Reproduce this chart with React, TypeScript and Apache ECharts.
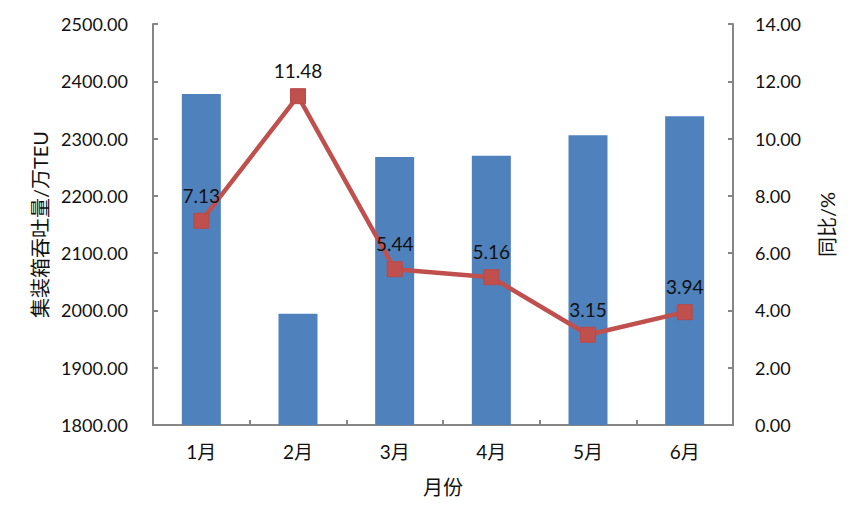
import React, { useEffect, useRef } from "react";
import * as echarts from "echarts";

const categories = ["1月", "2月", "3月", "4月", "5月", "6月"];
const throughput = [2378, 1994, 2268, 2270, 2306, 2339];
const yoy = [7.13, 11.48, 5.44, 5.16, 3.15, 3.94];

const FONT = "Lato, 'Noto Sans CJK SC', sans-serif";

export default function App() {
  const ref = useRef<HTMLDivElement>(null);
  useEffect(() => {
    if (!ref.current) return;
    const chart = echarts.init(ref.current, undefined, { renderer: "svg" });
    const axisLine = { show: true, lineStyle: { color: "#868686", width: 2 } };
    const axisTick = { show: true, inside: true, length: 5, lineStyle: { color: "#868686", width: 2 } };
    chart.setOption({
      animation: false,
      textStyle: { fontFamily: FONT },
      grid: { left: 145, right: 124, top: 16, bottom: 92 },
      xAxis: {
        type: "category",
        data: categories,
        name: "月份",
        nameLocation: "middle",
        nameGap: 52,
        nameTextStyle: { fontSize: 20, color: "#111", fontFamily: FONT },
        axisLine,
        axisTick,
        axisLabel: { fontSize: 19, color: "#111", margin: 17, fontFamily: FONT },
      },
      yAxis: [
        {
          type: "value",
          min: 1800,
          max: 2500,
          interval: 100,
          name: "集装箱吞吐量/万TEU",
          nameLocation: "middle",
          nameGap: 99,
          nameRotate: 90,
          nameTextStyle: { fontSize: 20, color: "#111", fontFamily: FONT },
          axisLine,
          axisTick,
          splitLine: { show: false },
          axisLabel: {
            fontSize: 18,
            color: "#111",
            margin: 25,
            fontFamily: FONT,
            formatter: (v: number) => v.toFixed(2),
          },
        },
        {
          type: "value",
          min: 0,
          max: 14,
          interval: 2,
          position: "right",
          name: "同比/%",
          nameLocation: "middle",
          nameGap: 84,
          nameRotate: 90,
          nameTextStyle: { fontSize: 20, color: "#111", fontFamily: FONT },
          axisLine,
          axisTick,
          splitLine: { show: false },
          axisLabel: {
            fontSize: 18,
            color: "#111",
            margin: 22,
            fontFamily: FONT,
            formatter: (v: number) => v.toFixed(2),
          },
        },
      ],
      series: [
        {
          type: "bar",
          data: throughput,
          barWidth: 39,
          itemStyle: { color: "#4F81BD" },
          yAxisIndex: 0,
        },
        {
          type: "line",
          data: yoy,
          yAxisIndex: 1,
          symbol: "rect",
          symbolSize: 15,
          lineStyle: { color: "#C0504D", width: 4.5 },
          itemStyle: { color: "#C0504D", borderColor: "#B94A47", borderWidth: 1 },
          label: {
            show: true,
            position: "top",
            distance: 8,
            fontSize: 19,
            color: "#111",
            fontFamily: FONT,
            formatter: (p: any) => p.value.toFixed(2),
          },
        },
      ],
    });
    return () => chart.dispose();
  }, []);
  return <div ref={ref} style={{ width: 849, height: 509 }} />;
}
